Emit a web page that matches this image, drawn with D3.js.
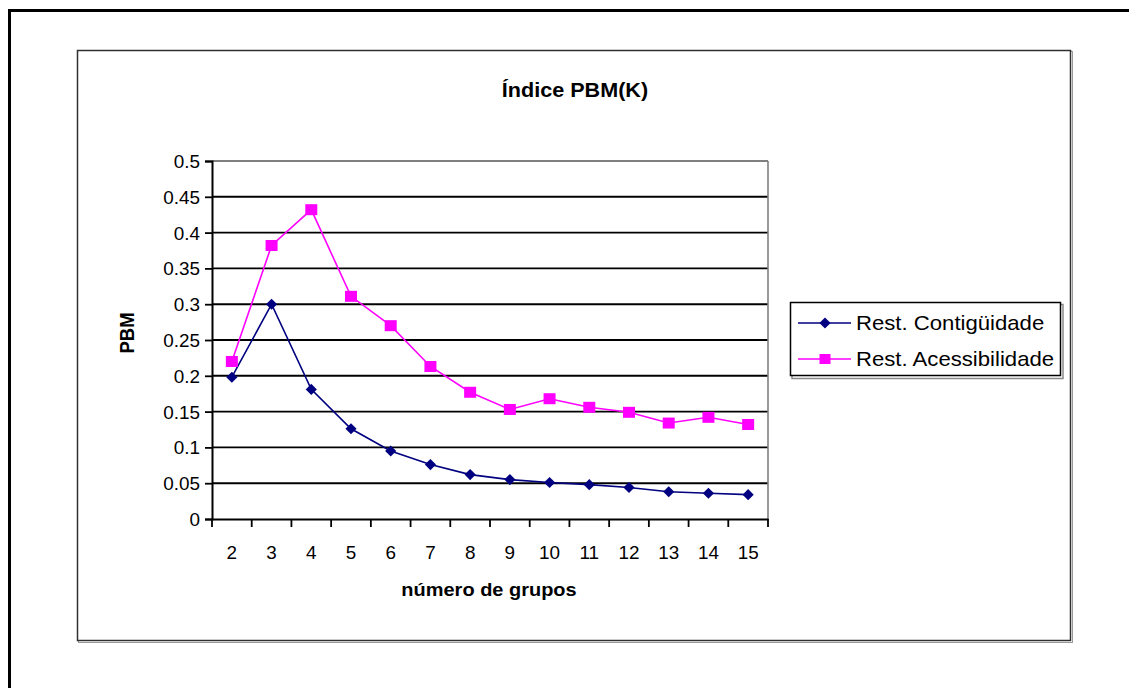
<!DOCTYPE html>
<html>
<head>
<meta charset="utf-8">
<script src="https://cdn.jsdelivr.net/npm/d3@7"></script>
<style>
  html, body { margin: 0; padding: 0; background: #fff; }
  svg { display: block; }
  text { font-family: "Liberation Sans", Arial, sans-serif; fill: #000; }
</style>
</head>
<body>
<svg id="chart" width="1129" height="688"></svg>
<script>
// ---- data ----
const categories = [2, 3, 4, 5, 6, 7, 8, 9, 10, 11, 12, 13, 14, 15];
const contiguidade = [0.198, 0.300, 0.181, 0.126, 0.095, 0.076, 0.062, 0.055, 0.051, 0.048, 0.044, 0.038, 0.036, 0.034];
const acessibilidade = [0.220, 0.382, 0.432, 0.311, 0.270, 0.213, 0.177, 0.153, 0.168, 0.156, 0.149, 0.134, 0.142, 0.132];
const yTickValues = [0, 0.05, 0.1, 0.15, 0.2, 0.25, 0.3, 0.35, 0.4, 0.45, 0.5];
const yTickLabels = ["0", "0.05", "0.1", "0.15", "0.2", "0.25", "0.3", "0.35", "0.4", "0.45", "0.5"];
const seriesNames = ["Rest. Contigüidade", "Rest. Acessibilidade"];
const titleText = "Índice PBM(K)";
const xTitle = "número de grupos";
const yTitle = "PBM";

const SX = 1.08; // horizontal stretch of text seen in reference
const blue = "#000080", pink = "#FF00FF";

const svg = d3.select("#chart");

// outer page border (top and left)
svg.append("rect").attr("x", 8).attr("y", 9).attr("width", 1125).attr("height", 3).attr("fill", "#000");
svg.append("rect").attr("x", 8).attr("y", 9).attr("width", 3).attr("height", 690).attr("fill", "#000");

// chart area box with shadow
svg.append("rect").attr("x", 78.5).attr("y", 51.5).attr("width", 994).attr("height", 591)
  .attr("fill", "none").attr("stroke", "#9a9a9a").attr("stroke-width", 1);
svg.append("rect").attr("x", 77.5).attr("y", 50.5).attr("width", 993).attr("height", 590)
  .attr("fill", "#fff").attr("stroke", "#303030").attr("stroke-width", 1.5);

// ---- scales ----
const L = 212, R = 768, T = 161, B = 519;
const x = d3.scaleBand().domain(categories).range([L, R]);
const y = d3.scaleLinear().domain([0, 0.5]).range([B, T]);

function stretchedText(parent, px, py, str, opts) {
  return parent.append("text")
    .attr("transform", `translate(${px},${py}) scale(${SX},1)` + (opts.rotate ? ` rotate(${opts.rotate})` : ""))
    .attr("text-anchor", opts.anchor || "start")
    .attr("font-size", opts.size)
    .attr("font-weight", opts.weight || "normal")
    .text(str);
}

// gridlines
svg.append("g").selectAll("line").data(yTickValues.slice(1)).join("line")
  .attr("x1", L).attr("x2", R)
  .attr("y1", d => y(d)).attr("y2", d => y(d))
  .attr("stroke", d => d === 0.5 ? "#808080" : "#000").attr("stroke-width", 1.9);

// plot area right border
svg.append("line").attr("x1", R).attr("x2", R).attr("y1", T).attr("y2", B)
  .attr("stroke", "#808080").attr("stroke-width", 1.6);

// y axis
const yAxis = d3.axisLeft(y).tickValues(yTickValues).tickSize(7).tickPadding(5)
  .tickFormat((d, i) => yTickLabels[i]);
const gy = svg.append("g").attr("transform", `translate(${L},0)`).call(yAxis);
gy.select(".domain").attr("stroke", "#000").attr("stroke-width", 2);
gy.selectAll(".tick line").attr("stroke", "#000").attr("stroke-width", 1.8);
gy.selectAll(".tick text")
  .attr("font-family", "Liberation Sans, Arial, sans-serif")
  .attr("font-size", 17.5).attr("fill", "#000")
  .attr("x", null).attr("dy", null)
  .attr("transform", `translate(-12,6.5) scale(${SX},1)`);

// x axis
const xAxis = d3.axisBottom(x).tickSize(0).tickPadding(0);
const gx = svg.append("g").attr("transform", `translate(0,${B})`).call(xAxis);
gx.select(".domain").attr("stroke", "#000").attr("stroke-width", 2);
gx.selectAll(".tick text")
  .attr("font-family", "Liberation Sans, Arial, sans-serif")
  .attr("font-size", 17.5).attr("fill", "#000")
  .attr("y", null).attr("dy", null)
  .attr("transform", `translate(0,39.5) scale(${SX},1)`);
// category boundary ticks
const boundaries = categories.map(c => x(c)).concat([x(categories[categories.length - 1]) + x.bandwidth()]);
svg.append("g").selectAll("line").data(boundaries).join("line")
  .attr("x1", d => d).attr("x2", d => d).attr("y1", B).attr("y2", B + 8)
  .attr("stroke", "#000").attr("stroke-width", 1.8);

// series
const cx = c => x(c) + x.bandwidth() / 2;
const line = d3.line().x((d, i) => cx(categories[i])).y(d => y(d));

svg.append("path").datum(contiguidade).attr("d", line)
  .attr("fill", "none").attr("stroke", blue).attr("stroke-width", 1.6);
svg.append("path").datum(acessibilidade).attr("d", line)
  .attr("fill", "none").attr("stroke", pink).attr("stroke-width", 1.6);

const diamond = d3.symbol().type(d3.symbolSquare).size(62);
svg.append("g").selectAll("path").data(contiguidade).join("path")
  .attr("d", diamond)
  .attr("transform", (d, i) => `translate(${cx(categories[i])},${y(d)}) rotate(45)`)
  .attr("fill", blue);
svg.append("g").selectAll("rect").data(acessibilidade).join("rect")
  .attr("x", (d, i) => cx(categories[i]) - 6).attr("y", d => y(d) - 5.5)
  .attr("width", 12).attr("height", 11).attr("fill", pink);

// titles
stretchedText(svg, 575, 97, titleText, { anchor: "middle", size: 20, weight: "bold" });
stretchedText(svg, 489, 596, xTitle, { anchor: "middle", size: 18.5, weight: "bold" });
stretchedText(svg, 134, 333, yTitle, { anchor: "middle", size: 18.5, weight: "bold", rotate: -90 });

// legend
const lg = svg.append("g");
lg.append("rect").attr("x", 792).attr("y", 304.5).attr("width", 271).attr("height", 74)
  .attr("fill", "none").attr("stroke", "#8a8a8a").attr("stroke-width", 1.5);
lg.append("rect").attr("x", 790.5).attr("y", 302.5).attr("width", 270).attr("height", 73)
  .attr("fill", "#fff").attr("stroke", "#000").attr("stroke-width", 1.5);
const rows = [323, 359];
const colors = [blue, pink];
rows.forEach((ry, i) => {
  lg.append("line").attr("x1", 798).attr("x2", 851).attr("y1", ry).attr("y2", ry)
    .attr("stroke", colors[i]).attr("stroke-width", 1.6);
  if (i === 0) {
    lg.append("path").attr("d", diamond).attr("transform", `translate(825,${ry}) rotate(45)`).attr("fill", blue);
  } else {
    lg.append("rect").attr("x", 819.5).attr("y", ry - 5).attr("width", 11).attr("height", 10).attr("fill", pink);
  }
  stretchedText(lg, 856, ry + 7, seriesNames[i], { size: 20.5 });
});
</script>
</body>
</html>
